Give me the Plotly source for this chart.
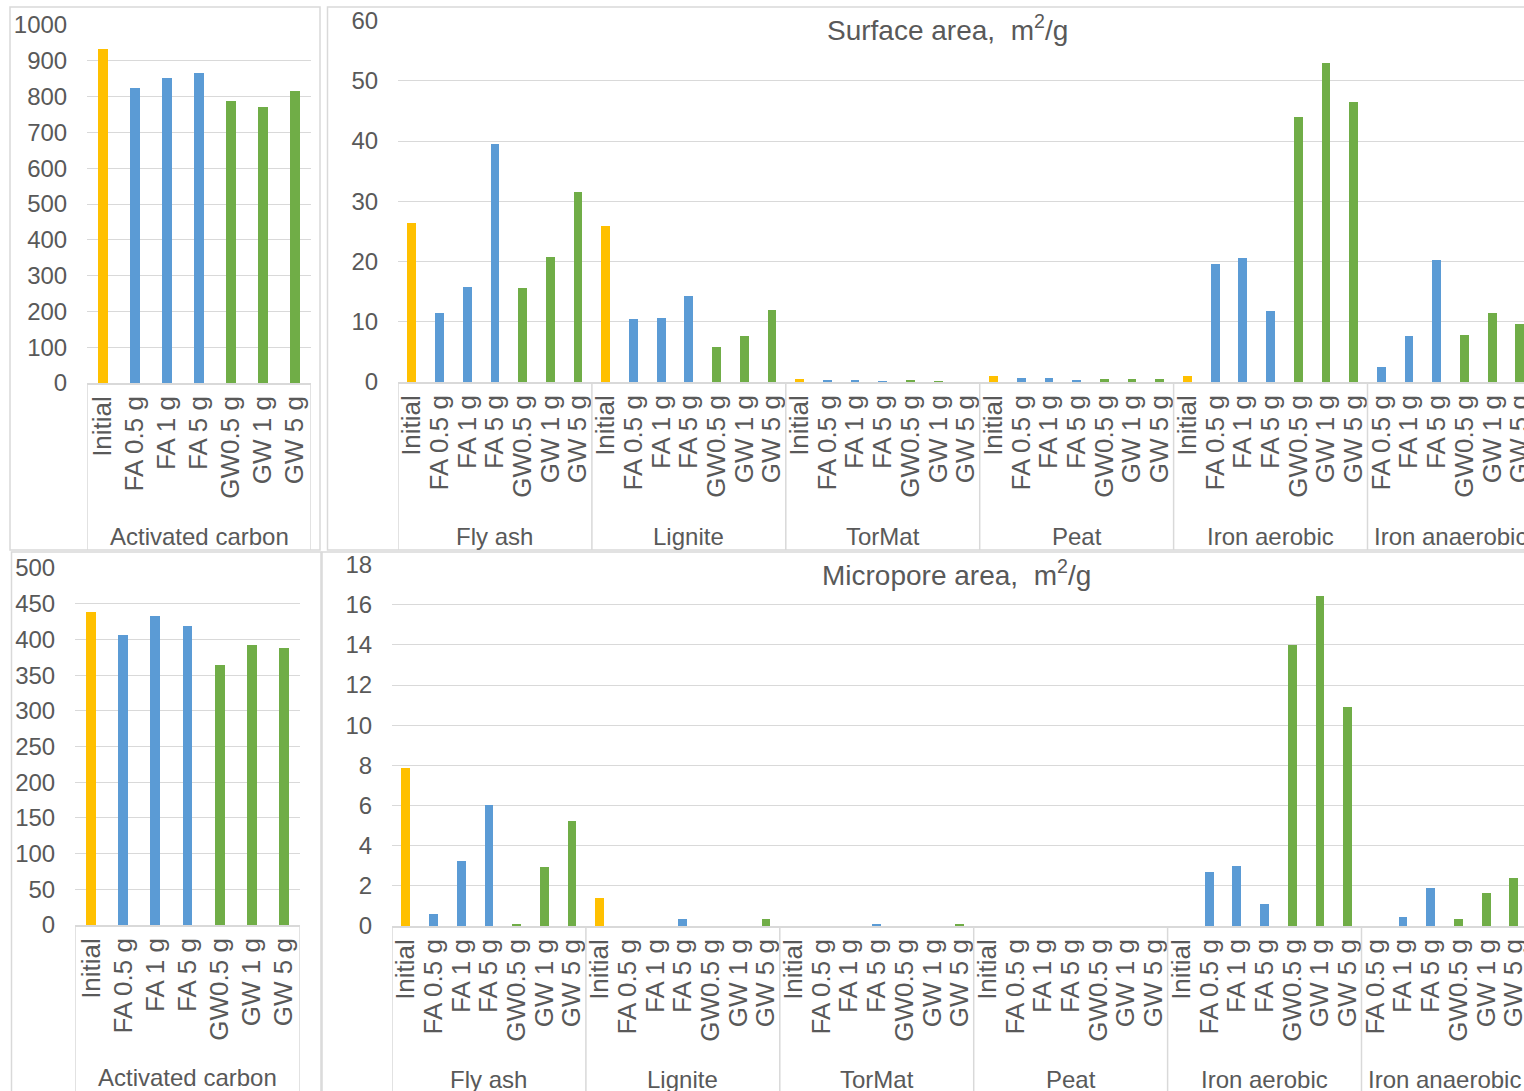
import plotly.graph_objects as go

# ---- categories -------------------------------------------------------------
treatments = ["Initial", "FA 0.5 g", "FA 1 g", "FA 5 g", "GW0.5 g", "GW 1 g", "GW 5 g"]
materials = ["Fly ash", "Lignite", "TorMat", "Peat", "Iron aerobic", "Iron anaerobic"]
# Iron anaerobic has no "Initial" sample
treatments_per_material = [treatments] * 5 + [treatments[1:]]

# ---- surface area, m2/g -----------------------------------------------------
surface_activated_carbon = [934, 825, 853, 865, 788, 771, 816]
surface_fly_ash = [26.5, 11.6, 15.8, 39.6, 15.7, 20.9, 31.6]
surface_lignite = [25.9, 10.6, 10.7, 14.4, 5.9, 7.8, 12.0]
surface_tormat = [0.5, 0.35, 0.35, 0.2, 0.35, 0.3, 0.0]
surface_peat = [1.0, 0.7, 0.7, 0.35, 0.6, 0.6, 0.5]
surface_iron_aerobic = [1.1, 19.7, 20.6, 11.9, 44.0, 53.0, 46.5]
surface_iron_anaerobic = [2.5, 7.8, 20.4, 7.9, 11.6, 9.75]

# ---- micropore area, m2/g ---------------------------------------------------
micro_activated_carbon = [439, 406, 433, 419, 364, 392, 388]
micro_fly_ash = [7.9, 0.63, 3.25, 6.05, 0.12, 2.94, 5.27]
micro_lignite = [1.44, 0.0, 0.0, 0.36, 0.0, 0.0, 0.36]
micro_tormat = [0.0, 0.0, 0.0, 0.1, 0.0, 0.0, 0.1]
micro_peat = [0.0, 0.0, 0.0, 0.0, 0.0, 0.0, 0.0]
micro_iron_aerobic = [0.0, 2.73, 3.02, 1.11, 14.0, 16.44, 10.95]
micro_iron_anaerobic = [0.0, 0.49, 1.9, 0.35, 1.65, 2.4]

surface_groups = [surface_fly_ash, surface_lignite, surface_tormat, surface_peat,
                  surface_iron_aerobic, surface_iron_anaerobic]
micro_groups = [micro_fly_ash, micro_lignite, micro_tormat, micro_peat,
                micro_iron_aerobic, micro_iron_anaerobic]

# ---- styling ----------------------------------------------------------------
W, H = 1524, 1091
FONT = "Liberation Sans, Arial, sans-serif"
TXT = "#595959"
GRID = "#d9d9d9"
C_INIT, C_FA, C_GW = "#FFC000", "#5B9BD5", "#70AD47"


def colour(label):
    if label.startswith("FA"):
        return C_FA
    if label.startswith("GW"):
        return C_GW
    return C_INIT


def px(x):
    return x / W


def py(y):
    return 1 - y / H


def flatten(groups):
    labels, values = [], []
    for labs, vals in zip(treatments_per_material, groups):
        labels += labs
        values += vals
    return labels, values


fig = go.Figure()

panels = [
    # (axis suffix, labels, values, bar width)
    ("", treatments, surface_activated_carbon, 0.31),
    ("2", *flatten(surface_groups), 0.32),
    ("3", treatments, micro_activated_carbon, 0.31),
    ("4", *flatten(micro_groups), 0.32),
]

for suf, labels, values, bw in panels:
    fig.add_trace(go.Bar(
        x=list(range(len(labels))), y=values, width=bw,
        marker=dict(color=[colour(l) for l in labels], line=dict(width=0)),
        xaxis="x" + suf, yaxis="y" + suf, showlegend=False,
        hoverinfo="skip",
    ))


def xaxis(domain, xmax, labels, anchor):
    return dict(
        domain=domain, range=[-0.5, xmax], anchor=anchor, automargin=False,
        tickmode="array", tickvals=list(range(len(labels))), ticktext=labels,
        tickangle=-90, tickfont=dict(family=FONT, size=26, color=TXT),
        ticklabeloverflow="allow",
        ticks="outside", ticklen=1, tickcolor="rgba(0,0,0,0)",
        showline=True, linecolor=GRID, linewidth=1.5,
        showgrid=False, zeroline=False, fixedrange=True,
    )


def yaxis(domain, top, step, anchor):
    return dict(
        domain=domain, range=[0, top], dtick=step, anchor=anchor, automargin=False,
        tickfont=dict(family=FONT, size=24, color=TXT),
        ticks="outside", ticklen=14, tickcolor="rgba(0,0,0,0)",
        showgrid=True, gridcolor=GRID, gridwidth=1.3,
        showline=False, zeroline=False, fixedrange=True,
    )


lab_top, _ = flatten(surface_groups)
lab_bot, _ = flatten(micro_groups)
cat_w = 27.7

fig.update_layout(
    width=W, height=H, autosize=False,
    margin=dict(l=0, r=0, t=0, b=0, pad=0),
    paper_bgcolor="white", plot_bgcolor="white",
    bargap=0, font=dict(family=FONT, color=TXT), showlegend=False,
    xaxis=xaxis([px(87), px(311)], 6.5, treatments, "y"),
    yaxis=yaxis([py(383), py(25)], 1000, 100, "x"),
    xaxis2=xaxis([px(398), 1], -0.5 + (W - 398) / cat_w, lab_top, "y2"),
    yaxis2=yaxis([py(382), py(20.5)], 60, 10, "x2"),
    xaxis3=xaxis([px(75), px(300)], 6.5, treatments, "y3"),
    yaxis3=yaxis([py(925), py(568)], 500, 50, "x3"),
    xaxis4=xaxis([px(392), 1], -0.5 + (W - 392) / cat_w, lab_bot, "y4"),
    yaxis4=yaxis([py(926), py(564.5)], 18, 2, "x4"),
)

shapes = []
# chart-area frames
for x0, y0, x1, y1 in [(10, 7, 320, 550), (327.5, 7, 1535, 550),
                       (11.5, 552, 321, 1100), (322, 552, 1535, 1100)]:
    shapes.append(dict(type="rect", xref="paper", yref="paper",
                       x0=px(x0), x1=px(x1), y0=py(y0), y1=py(y1),
                       line=dict(color=GRID, width=1.5), layer="below"))

annotations = []
# category group dividers and group names
for suf, axis_y, frame_y, label_y, groups in [
        ("", 383, 550, 536, [("Activated carbon", 7)]),
        ("2", 382, 550, 536, list(zip(materials, map(len, treatments_per_material)))),
        ("3", 925, 1100, 1077, [("Activated carbon", 7)]),
        ("4", 926, 1100, 1079, list(zip(materials, map(len, treatments_per_material)))),
]:
    start = 0
    bounds = [-0.5]
    for name, n in groups:
        annotations.append(dict(
            xref="x" + suf, yref="paper", x=start + (n - 1) / 2, y=py(label_y),
            text=name, showarrow=False, xanchor="center", yanchor="middle",
            font=dict(family=FONT, size=24, color=TXT)))
        start += n
        bounds.append(start - 0.5)
    for b in bounds:
        shapes.append(dict(type="line", xref="x" + suf, yref="paper",
                           x0=b, x1=b, y0=py(axis_y), y1=py(frame_y),
                           line=dict(color=GRID, width=1.5)))

# panel titles
for text, cx, cy in [("Surface area,  m<sup>2</sup>/g", 947, 28),
                     ("Micropore area,  m<sup>2</sup>/g", 956, 573)]:
    annotations.append(dict(xref="paper", yref="paper", x=px(cx), y=py(cy),
                            xanchor="center", yanchor="middle",
                            text=text, showarrow=False,
                            font=dict(family=FONT, size=28, color=TXT)))

fig.update_layout(shapes=shapes, annotations=annotations)

fig.write_html("out.html", config={"displayModeBar": False})
